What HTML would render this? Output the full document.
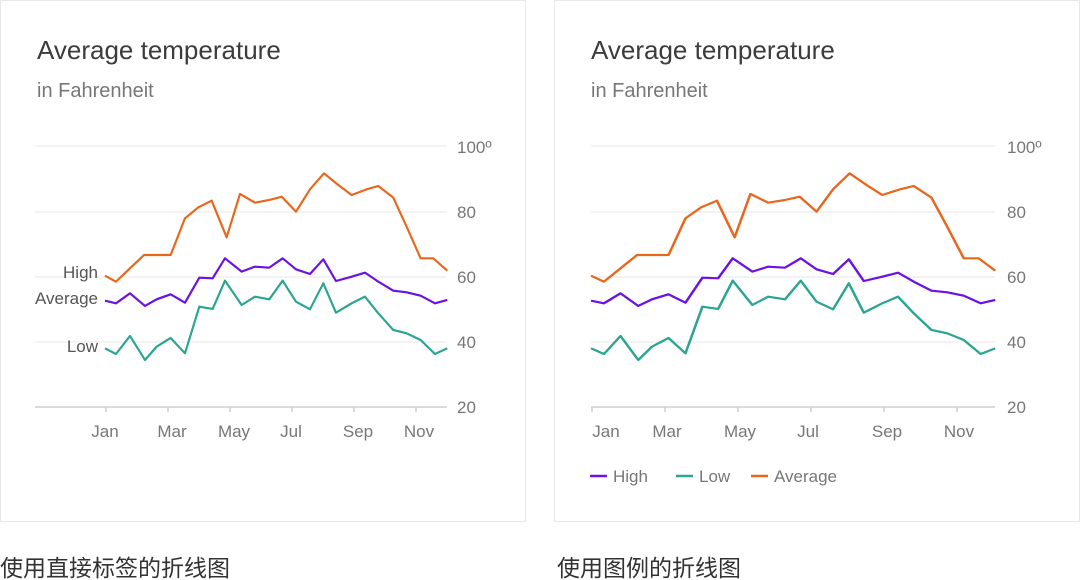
<!DOCTYPE html>
<html><head><meta charset="utf-8"><style>
html,body{margin:0;padding:0;background:#fff;}
svg{display:block;font-family:"Liberation Sans","Noto Sans CJK SC",sans-serif;}
.t{font-size:26px;fill:#3c3c3c}
.s{font-size:20px;fill:#777}
.ax{font-size:17px;fill:#777}
.lb{font-size:17px;fill:#555}
.g{stroke:#ececec;stroke-width:1.3}
.b{stroke:#cfcfcf;stroke-width:1.5}
.l{fill:none;stroke-width:6.5;stroke-linejoin:round}
</style></head><body>
<svg width="1080" height="580" viewBox="0 0 1080 580" xmlns="http://www.w3.org/2000/svg">
<defs>
<g id="series">
<polyline class="l" stroke="#e8671c" points="255,437 288,455 330,415 372,375 452,375 495,265 535,232 575,212 620,322 660,192 705,218 748,210 785,200 828,245 870,178 912,130 955,165 995,195 1040,178 1075,168 1120,203 1160,290 1202,385 1240,385 1282,422"/>
<polyline class="l" stroke="#6a12e6" points="255,512 288,520 330,490 375,528 410,508 452,493 495,518 538,443 578,445 615,385 665,425 705,410 748,413 788,385 828,418 870,432 910,388 948,453 995,440 1035,428 1075,455 1120,482 1160,487 1202,497 1245,520 1282,510"/>
<polyline class="l" stroke="#2aa590" points="255,655 288,672 330,618 375,690 410,650 452,624 495,670 538,530 578,537 615,452 665,525 705,500 748,508 788,452 828,515 870,538 910,460 948,548 995,520 1035,500 1075,550 1120,600 1160,610 1202,630 1245,672 1282,655"/>
</g>
</defs>
<rect x="0.5" y="0.5" width="525" height="521" fill="#fff" stroke="#e8e8e8"/>
<rect x="554.5" y="0.5" width="525" height="521" fill="#fff" stroke="#e8e8e8"/>

<text class="t" x="37" y="59">Average temperature</text>
<text class="s" x="37" y="97">in Fahrenheit</text>
<line class="g" x1="35" y1="146" x2="447" y2="146"/>
<line class="g" x1="35" y1="212" x2="447" y2="212"/>
<line class="g" x1="35" y1="277" x2="447" y2="277"/>
<line class="g" x1="35" y1="342" x2="447" y2="342"/>
<line class="b" x1="35" y1="407" x2="447" y2="407"/>
<g stroke="#cfcfcf" stroke-width="1.5">
<line x1="106" y1="407" x2="106" y2="412"/><line x1="168" y1="407" x2="168" y2="412"/><line x1="230" y1="407" x2="230" y2="412"/><line x1="292" y1="407" x2="292" y2="412"/><line x1="354" y1="407" x2="354" y2="412"/><line x1="416" y1="407" x2="416" y2="412"/>
</g>
<g class="ax">
<text x="457" y="153">100º</text><text x="457" y="218">80</text><text x="457" y="283">60</text><text x="457" y="348">40</text><text x="457" y="413">20</text>
<g text-anchor="middle"><text x="105" y="437">Jan</text><text x="172" y="437">Mar</text><text x="234" y="437">May</text><text x="291" y="437">Jul</text><text x="358" y="437">Sep</text><text x="419" y="437">Nov</text></g>
</g>
<g class="lb" text-anchor="end"><text x="98" y="278">High</text><text x="98" y="304">Average</text><text x="98" y="352">Low</text></g>
<g transform="translate(20,130) scale(0.3333)"><use href="#series"/></g>

<text class="t" x="591" y="59">Average temperature</text>
<text class="s" x="591" y="97">in Fahrenheit</text>
<line class="g" x1="591" y1="146" x2="995" y2="146"/>
<line class="g" x1="591" y1="212" x2="995" y2="212"/>
<line class="g" x1="591" y1="277" x2="995" y2="277"/>
<line class="g" x1="591" y1="342" x2="995" y2="342"/>
<line class="b" x1="591" y1="407" x2="995" y2="407"/>
<g stroke="#cfcfcf" stroke-width="1.5">
<line x1="592" y1="407" x2="592" y2="412"/><line x1="665" y1="407" x2="665" y2="412"/><line x1="738" y1="407" x2="738" y2="412"/><line x1="811" y1="407" x2="811" y2="412"/><line x1="884" y1="407" x2="884" y2="412"/><line x1="957" y1="407" x2="957" y2="412"/>
</g>
<g class="ax">
<text x="1007" y="153">100º</text><text x="1007" y="218">80</text><text x="1007" y="283">60</text><text x="1007" y="348">40</text><text x="1007" y="413">20</text>
<g text-anchor="middle"><text x="606" y="437">Jan</text><text x="667" y="437">Mar</text><text x="740" y="437">May</text><text x="808" y="437">Jul</text><text x="887" y="437">Sep</text><text x="959" y="437">Nov</text></g>
</g>
<g transform="translate(591,0) scale(1.181,1) translate(-105,0)">
<g transform="translate(20,130) scale(0.3333)"><use href="#series"/></g>
</g>
<g class="ax">
<line x1="590" y1="476" x2="607" y2="476" stroke="#6a12e6" stroke-width="2.5"/><text x="613" y="482">High</text>
<line x1="676" y1="476" x2="693" y2="476" stroke="#2aa590" stroke-width="2.5"/><text x="699" y="482">Low</text>
<line x1="751" y1="476" x2="768" y2="476" stroke="#e8671c" stroke-width="2.5"/><text x="774" y="482">Average</text>
</g>

<text x="0" y="576" font-size="23" fill="#333">使用直接标签的折线图</text>
<text x="557" y="576" font-size="23" fill="#333">使用图例的折线图</text>
</svg>
</body></html>
